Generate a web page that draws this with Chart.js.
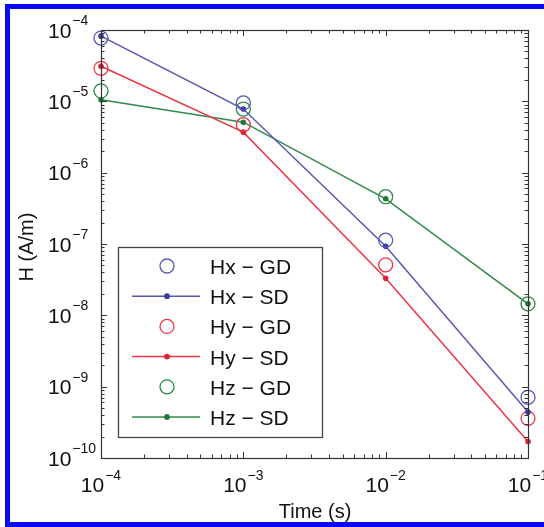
<!DOCTYPE html>
<html>
<head>
<meta charset="utf-8">
<script src="https://cdn.jsdelivr.net/npm/chart.js@4.4.1/dist/chart.umd.min.js"></script>
<style>
  body { margin: 0; background: #fff; }
  #wrap { position: relative; width: 544px; height: 527px; overflow: hidden; background: #fff; }
  #frame { position: absolute; left: 5px; top: 4px; width: 600px; height: 523px; box-sizing: border-box; border: 5px solid #0a0af0; pointer-events: none; }
  canvas { position: absolute; left: 0; top: 0; }
</style>
</head>
<body>
<div id="wrap">
  <canvas id="myChart" width="544" height="527"></canvas>
  <div id="frame"></div>
</div>
<script>
// data
const times = [1e-4, 1e-3, 1e-2, 1e-1];
const hxGD = [7.7e-5, 9.5e-6, 1.13e-7, 7.1e-10];
const hxSD = [8.2e-5, 7.8e-6, 9.3e-8, 4.4e-10];
const hyGD = [2.9e-5, 4.7e-6, 5.1e-8, 3.6e-10];
const hySD = [3.1e-5, 3.7e-6, 3.3e-8, 1.7e-10];
const hzGD = [1.4e-5, 7.8e-6, 4.6e-7, 1.45e-8];
const hzSD = [1.05e-5, 5.1e-6, 4.3e-7, 1.45e-8];
const seriesNames = ['Hx \u2212 GD', 'Hx \u2212 SD', 'Hy \u2212 GD', 'Hy \u2212 SD', 'Hz \u2212 GD', 'Hz \u2212 SD'];
const xExps = [-4, -3, -2, -1];
const yExps = [-10, -9, -8, -7, -6, -5, -4];

const blue = '#5757b4', red = '#ec3448', green = '#2f8a4c';
const blueDot = '#3b3ba6', redDot = '#e3203a', greenDot = '#1f7a3c';

function pts(vals) {
  return vals.map((v, i) => ({x: times[i], y: v}));
}
function gd(label, vals, col) {
  return {label: label, data: pts(vals), showLine: false, borderColor: col, backgroundColor: 'rgba(0,0,0,0)',
    pointRadius: 7, pointBorderWidth: 1.3, clip: false, isGD: true};
}
function sd(label, vals, col, dot) {
  return {label: label, data: pts(vals), showLine: true, borderColor: col, borderWidth: 1.5,
    pointRadius: 2.8, pointBorderWidth: 0, pointBackgroundColor: dot, backgroundColor: dot, clip: false, isGD: false};
}

const FONT = '"Liberation Sans", Arial, sans-serif';

const axesPlugin = {
  id: 'matlabAxes',
  afterDatasetsDraw(chart) {
    const ctx = chart.ctx, a = chart.chartArea, xs = chart.scales.x, ys = chart.scales.y;
    ctx.save();
    ctx.strokeStyle = '#333';
    ctx.lineWidth = 1.2;
    ctx.strokeRect(Math.round(a.left) + 0.5, Math.round(a.top) + 0.5, Math.round(a.right - a.left), Math.round(a.bottom - a.top));

    // inward ticks, major and minor
    ctx.lineWidth = 1;
    ctx.beginPath();
    for (let e = xExps[0]; e < xExps[xExps.length - 1]; e++) {
      for (let m = 1; m <= 9; m++) {
        const px = Math.round(xs.getPixelForValue(m * Math.pow(10, e))) + 0.5;
        const len = m === 1 ? 6 : 3.5;
        ctx.moveTo(px, a.bottom); ctx.lineTo(px, a.bottom - len);
        ctx.moveTo(px, a.top); ctx.lineTo(px, a.top + len);
      }
    }
    for (let e = yExps[0]; e < yExps[yExps.length - 1]; e++) {
      for (let m = 1; m <= 9; m++) {
        const py = Math.round(ys.getPixelForValue(m * Math.pow(10, e))) + 0.5;
        const len = m === 1 ? 6 : 3.5;
        ctx.moveTo(a.left, py); ctx.lineTo(a.left + len, py);
        ctx.moveTo(a.right, py); ctx.lineTo(a.right - len, py);
      }
    }
    ctx.stroke();

    // tick labels with superscripts
    ctx.fillStyle = '#111';
    ctx.textBaseline = 'alphabetic';
    yExps.forEach(e => {
      const py = ys.getPixelForValue(Math.pow(10, e));
      ctx.font = '21px ' + FONT;
      ctx.textAlign = 'left';
      ctx.fillText('10', 48, py + 7.5);
      const w = ctx.measureText('10').width;
      ctx.font = '14px ' + FONT;
      ctx.fillText('\u2212' + Math.abs(e), 48 + w + 1, py - 5);
    });
    xExps.forEach(e => {
      const px = xs.getPixelForValue(Math.pow(10, e));
      ctx.font = '21px ' + FONT;
      const w1 = ctx.measureText('10').width;
      ctx.font = '14px ' + FONT;
      const s = '\u2212' + Math.abs(e);
      const w2 = ctx.measureText(s).width;
      const x0 = px - (w1 + w2 + 1) / 2;
      ctx.textAlign = 'left';
      ctx.font = '21px ' + FONT;
      ctx.fillText('10', x0, a.bottom + 34);
      ctx.font = '14px ' + FONT;
      ctx.fillText(s, x0 + w1 + 1, a.bottom + 22);
    });

    // axis titles
    ctx.font = '20px ' + FONT;
    ctx.textAlign = 'center';
    ctx.fillText('Time (s)', (a.left + a.right) / 2 + 0.5, 518);
    ctx.save();
    ctx.translate(33, (a.top + a.bottom) / 2 + 3);
    ctx.rotate(-Math.PI / 2);
    ctx.fillText('H (A/m)', 0, 0);
    ctx.restore();

    // legend box
    const lx = 118.5, ly = 247.5, lw = 204, lh = 190;
    ctx.fillStyle = '#fff';
    ctx.fillRect(lx, ly, lw, lh);
    ctx.strokeStyle = '#444';
    ctx.lineWidth = 1.3;
    ctx.strokeRect(lx, ly, lw, lh);
    chart.data.datasets.forEach((ds, i) => {
      const cy = 266 + i * 30.2;
      if (ds.isGD) {
        ctx.strokeStyle = ds.borderColor;
        ctx.lineWidth = 1.3;
        ctx.beginPath();
        ctx.arc(167, cy, 7, 0, Math.PI * 2);
        ctx.stroke();
      } else {
        ctx.strokeStyle = ds.borderColor;
        ctx.lineWidth = 1.5;
        ctx.beginPath();
        ctx.moveTo(132, cy); ctx.lineTo(200, cy);
        ctx.stroke();
        ctx.fillStyle = ds.pointBackgroundColor;
        ctx.beginPath();
        ctx.arc(167, cy, 2.9, 0, Math.PI * 2);
        ctx.fill();
      }
      ctx.fillStyle = '#111';
      ctx.font = '21px ' + FONT;
      ctx.textAlign = 'left';
      ctx.fillText(ds.label, 210, cy + 8);
    });
    ctx.restore();
  }
};

const ctx = document.getElementById('myChart');
new Chart(ctx, {
  type: 'scatter',
  data: {
    datasets: [
      gd(seriesNames[0], hxGD, blue),
      sd(seriesNames[1], hxSD, blue, blueDot),
      gd(seriesNames[2], hyGD, red),
      sd(seriesNames[3], hySD, red, redDot),
      gd(seriesNames[4], hzGD, green),
      sd(seriesNames[5], hzSD, green, greenDot)
    ]
  },
  options: {
    responsive: false,
    animation: false,
    devicePixelRatio: 1,
    layout: {padding: {left: 101, right: 16, top: 30, bottom: 69}},
    plugins: {legend: {display: false}, tooltip: {enabled: false}},
    scales: {
      x: {type: 'logarithmic', min: Math.pow(10, xExps[0]), max: Math.pow(10, xExps[xExps.length - 1]), display: false},
      y: {type: 'logarithmic', min: Math.pow(10, yExps[0]), max: Math.pow(10, yExps[yExps.length - 1]), display: false}
    }
  },
  plugins: [axesPlugin]
});
</script>
</body>
</html>
